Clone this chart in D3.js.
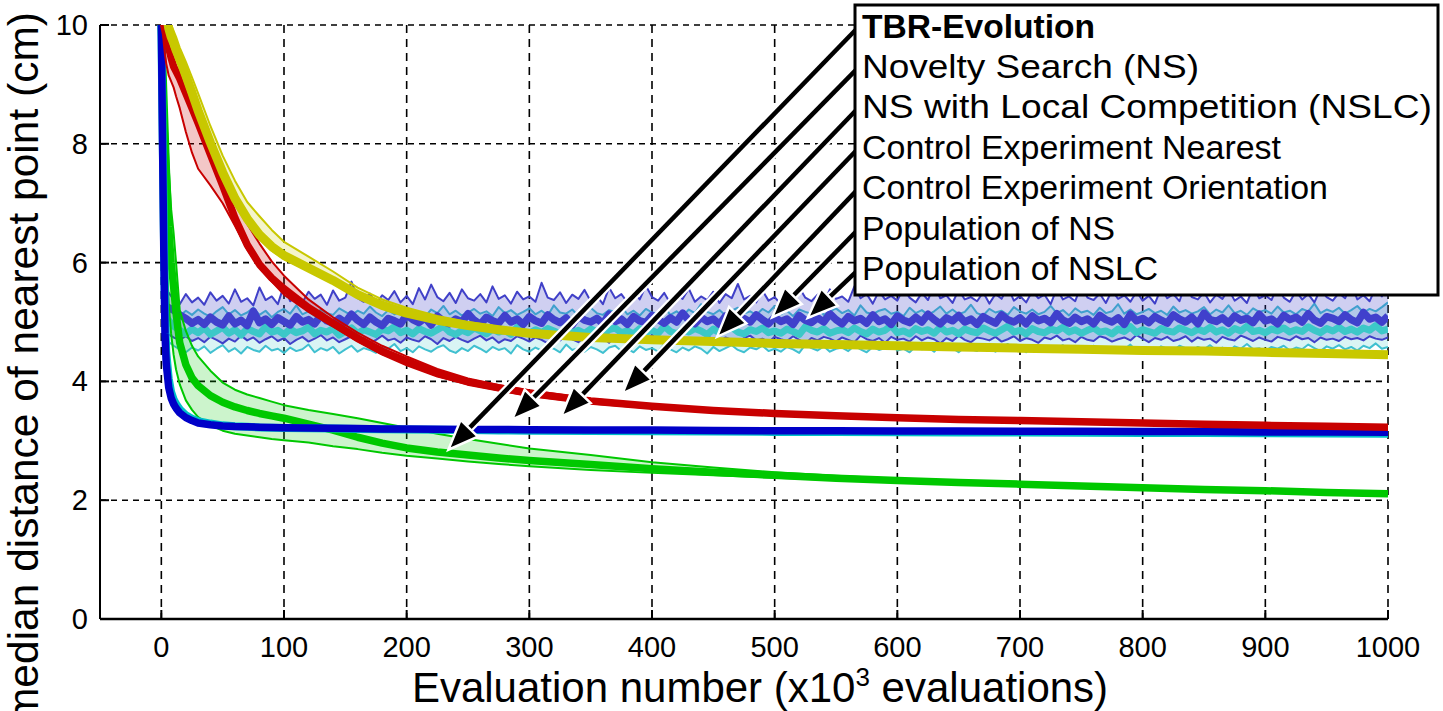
<!DOCTYPE html>
<html>
<head>
<meta charset="utf-8">
<script src="https://cdn.jsdelivr.net/npm/d3@7"></script>
<style>
  body { margin: 0; background: #fff; }
  text { font-family: "Liberation Sans", Arial, sans-serif; fill: #000; }
</style>
</head>
<body>
<svg id="chart" width="1443" height="711"></svg>
<script>
// evaluation sample points (x10^3) for the smooth curves
const evals = [0,1,2,3,4,6,8,10,12,15,20,25,30,40,50,60,70,80,90,100,120,140,160,180,200,225,250,275,300,350,400,450,500,550,600,650,700,750,800,850,900,950,1000];

// TBR-Evolution (median + quartiles)
const tbrMed = [10,9.4,8.8,8.2,7.6,6.6,6.0,5.6,5.15,4.65,4.28,4.06,3.93,3.76,3.65,3.57,3.51,3.46,3.42,3.38,3.28,3.18,3.06,2.96,2.88,2.81,2.76,2.71,2.67,2.6,2.53,2.47,2.42,2.37,2.33,2.3,2.27,2.24,2.21,2.18,2.16,2.13,2.11];
const tbrHi = [10,9.8,9.5,9.0,8.5,7.6,6.9,6.5,6.0,5.2,4.85,4.6,4.42,4.18,3.98,3.86,3.78,3.72,3.66,3.6,3.52,3.45,3.38,3.3,3.22,3.12,3.03,2.95,2.87,2.76,2.64,2.55,2.47,2.41,2.36,2.32,2.29,2.26,2.23,2.2,2.18,2.15,2.13];
const tbrLo = [10,8.8,7.8,6.9,6.2,5.3,4.8,4.45,4.2,3.95,3.68,3.52,3.4,3.26,3.17,3.12,3.09,3.06,3.03,3.01,2.97,2.91,2.86,2.8,2.75,2.7,2.65,2.61,2.57,2.51,2.46,2.42,2.38,2.34,2.3,2.27,2.24,2.21,2.18,2.16,2.14,2.11,2.09];

// Novelty Search / NSLC (best individual)
const nsMed = [10,8.0,6.2,4.8,4.3,3.9,3.72,3.62,3.55,3.47,3.39,3.34,3.3,3.27,3.25,3.24,3.235,3.23,3.225,3.22,3.215,3.21,3.205,3.2,3.2,3.195,3.19,3.19,3.185,3.18,3.18,3.175,3.17,3.17,3.165,3.165,3.16,3.16,3.155,3.155,3.15,3.15,3.145];
const nslcMed = [10,8.3,6.6,5.2,4.5,4.05,3.82,3.7,3.62,3.53,3.43,3.37,3.33,3.29,3.26,3.245,3.235,3.225,3.22,3.215,3.21,3.205,3.2,3.195,3.19,3.185,3.18,3.175,3.17,3.165,3.16,3.155,3.15,3.15,3.145,3.14,3.14,3.135,3.13,3.13,3.125,3.125,3.12];

// Control experiment nearest
const nearMed = [10.6,10.3,10.0,9.9,9.8,9.62,9.45,9.3,9.22,9.1,8.85,8.6,8.35,7.82,7.3,6.75,6.3,5.97,5.74,5.56,5.24,4.98,4.73,4.51,4.34,4.14,3.99,3.89,3.8,3.67,3.58,3.51,3.46,3.42,3.39,3.36,3.34,3.32,3.3,3.28,3.26,3.245,3.23];
const nearHi = [10.7,10.5,10.3,10.15,10.05,9.85,9.7,9.55,9.45,9.3,9.08,8.82,8.56,8.05,7.55,7.08,6.65,6.32,6.02,5.78,5.38,5.08,4.82,4.6,4.42,4.21,4.05,3.94,3.85,3.71,3.61,3.54,3.49,3.45,3.41,3.38,3.36,3.34,3.32,3.3,3.28,3.265,3.25];
const nearLo = [10.4,10.0,9.7,9.5,9.35,9.15,9.05,8.95,8.8,8.6,8.2,7.85,7.58,7.3,7.0,6.62,6.22,5.92,5.68,5.46,5.17,4.92,4.67,4.45,4.27,4.08,3.95,3.85,3.76,3.63,3.55,3.48,3.44,3.4,3.37,3.34,3.32,3.3,3.28,3.26,3.245,3.23,3.215];

// Control experiment orientation
const orientMed = [11.2,10.9,10.6,10.4,10.2,9.95,9.8,9.7,9.58,9.43,9.15,8.86,8.56,8.02,7.52,7.08,6.74,6.47,6.27,6.12,5.91,5.7,5.46,5.28,5.15,5.03,4.94,4.87,4.81,4.74,4.7,4.67,4.64,4.62,4.6,4.58,4.56,4.54,4.52,4.51,4.49,4.47,4.45];
const orientHi = [11.4,11.1,10.8,10.6,10.4,10.15,10.0,9.9,9.8,9.62,9.38,9.12,8.85,8.3,7.8,7.38,7.02,6.78,6.55,6.35,6.1,5.85,5.58,5.38,5.24,5.1,5.0,4.92,4.85,4.77,4.72,4.69,4.66,4.64,4.62,4.6,4.58,4.56,4.54,4.53,4.51,4.49,4.47];
const orientLo = [11.0,10.7,10.4,10.2,10.0,9.8,9.65,9.55,9.42,9.28,9.0,8.72,8.43,7.9,7.4,6.98,6.65,6.4,6.2,6.06,5.86,5.65,5.42,5.25,5.12,5.0,4.92,4.85,4.79,4.72,4.68,4.65,4.62,4.6,4.58,4.56,4.54,4.52,4.5,4.49,4.47,4.45,4.43];

// population curves, sampled every 5 x10^3 evaluations
const popEvals = d3.range(5, 1001, 5);
const popNsHi = [5.52,5.38,5.30,5.47,5.33,5.41,5.29,5.50,5.36,5.44,5.31,5.55,5.34,5.40,5.28,5.58,5.37,5.43,5.30,5.62,5.35,5.42,5.33,5.51,5.39,5.46,5.29,5.53,5.36,5.41,5.68,5.40,5.34,5.48,5.31,5.45,5.37,5.52,5.33,5.44,5.30,5.57,5.38,5.63,5.42,5.35,5.49,5.32,5.55,5.40,5.36,5.47,5.33,5.60,5.39,5.45,5.31,5.51,5.38,5.43,5.34,5.66,5.41,5.37,5.50,5.32,5.46,5.39,5.54,5.35,5.44,5.30,5.58,5.40,5.47,5.33,5.52,5.38,5.61,5.42,5.36,5.49,5.31,5.45,5.39,5.56,5.34,5.43,5.37,5.51,5.32,5.47,5.40,5.64,5.38,5.44,5.33,5.53,5.36,5.42,5.30,5.49,5.37,5.58,5.41,5.35,5.46,5.32,5.55,5.39,5.43,5.34,5.60,5.40,5.47,5.31,5.52,5.38,5.44,5.36,5.57,5.41,5.33,5.49,5.37,5.63,5.40,5.45,5.32,5.54,5.38,5.42,5.35,5.50,5.31,5.47,5.39,5.59,5.36,5.44,5.33,5.52,5.40,5.46,5.30,5.56,5.38,5.43,5.35,5.62,5.41,5.37,5.48,5.32,5.53,5.39,5.45,5.34,5.51,5.36,5.44,5.31,5.57,5.40,5.47,5.35,5.65,5.42,5.38,5.50,5.33,5.46,5.39,5.55,5.36,5.43,5.32,5.58,5.40,5.45,5.37,5.61,5.41,5.34,5.52,5.38,5.47,5.33,5.56,5.42,5.36,5.49,5.40,5.63,5.38,5.45,5.35,5.58,5.43,5.70];
const popNsMed = [5.25,5.20,5.12,5.06,4.98,5.04,4.96,5.08,5.00,4.95,5.10,4.97,5.03,4.94,5.18,4.99,5.05,4.96,5.07,5.01,4.95,5.09,5.00,5.04,4.97,5.11,5.02,4.98,5.06,4.99,5.13,5.03,4.96,5.08,5.00,4.94,5.06,5.02,4.97,5.12,5.04,4.99,5.07,4.95,5.10,5.01,4.97,5.05,5.00,5.14,5.03,4.96,5.08,5.02,4.98,5.11,5.00,5.05,4.96,5.09,5.02,4.98,5.12,5.04,4.99,5.07,4.95,5.10,5.03,5.00,5.06,4.97,5.13,5.01,5.05,4.96,5.09,5.02,4.99,5.11,5.04,4.98,5.07,5.00,5.15,5.03,4.97,5.08,5.01,5.05,4.96,5.10,5.02,4.99,5.06,5.00,5.12,5.04,4.97,5.08,5.01,5.05,4.96,5.11,5.03,4.99,5.07,5.00,5.14,5.04,4.97,5.09,5.02,5.06,4.98,5.12,5.01,5.05,4.96,5.10,5.03,4.99,5.08,5.00,5.13,5.04,4.97,5.07,5.02,5.11,5.00,5.05,4.96,5.09,5.03,4.98,5.12,5.04,5.00,5.07,4.97,5.10,5.02,5.06,4.99,5.14,5.03,4.98,5.08,5.01,5.05,4.97,5.11,5.04,5.00,5.07,4.96,5.13,5.02,5.06,4.99,5.09,5.03,4.98,5.12,5.05,5.00,5.08,4.97,5.15,5.04,5.01,5.07,4.98,5.10,5.03,5.06,4.99,5.13,5.02,5.05,4.97,5.11,5.04,5.08,5.00,5.14,5.03,4.98,5.09,5.06,5.01,5.12,5.04,4.99,5.16,5.05,5.08,5.00,5.10];
const popNsLo = [4.80,4.74,4.70,4.76,4.68,4.73,4.66,4.75,4.70,4.64,4.72,4.67,4.77,4.69,4.74,4.65,4.71,4.76,4.68,4.73,4.63,4.70,4.75,4.67,4.72,4.78,4.69,4.74,4.66,4.71,4.76,4.68,4.73,4.64,4.70,4.77,4.69,4.72,4.65,4.74,4.70,4.67,4.76,4.71,4.63,4.73,4.68,4.75,4.70,4.66,4.72,4.77,4.69,4.74,4.65,4.71,4.68,4.76,4.72,4.67,4.74,4.70,4.64,4.73,4.69,4.77,4.71,4.66,4.75,4.70,4.68,4.73,4.65,4.76,4.72,4.69,4.74,4.67,4.71,4.78,4.70,4.66,4.73,4.69,4.75,4.64,4.72,4.68,4.76,4.71,4.67,4.74,4.70,4.65,4.73,4.77,4.69,4.72,4.66,4.75,4.71,4.68,4.76,4.70,4.64,4.73,4.69,4.75,4.72,4.67,4.74,4.70,4.66,4.77,4.71,4.68,4.73,4.65,4.75,4.70,4.72,4.67,4.76,4.69,4.74,4.71,4.64,4.73,4.68,4.77,4.70,4.66,4.74,4.72,4.69,4.75,4.67,4.71,4.76,4.68,4.73,4.70,4.65,4.74,4.71,4.77,4.69,4.72,4.66,4.75,4.70,4.68,4.76,4.73,4.67,4.71,4.74,4.69,4.78,4.72,4.66,4.73,4.70,4.75,4.68,4.71,4.76,4.67,4.74,4.70,4.72,4.65,4.75,4.71,4.69,4.77,4.73,4.68,4.74,4.70,4.67,4.75,4.72,4.69,4.76,4.71,4.73,4.66,4.74,4.70,4.72,4.68,4.75,4.71,4.73,4.69,4.76,4.72,4.70,4.74];
const popNslcHi = [5.22,5.15,5.10,5.19,5.12,5.21,5.14,5.09,5.18,5.25,5.13,5.20,5.11,5.16,5.24,5.12,5.19,5.08,5.17,5.22,5.14,5.28,5.13,5.18,5.10,5.21,5.15,5.12,5.23,5.17,5.11,5.19,5.14,5.26,5.16,5.10,5.20,5.13,5.18,5.24,5.12,5.17,5.09,5.21,5.15,5.27,5.13,5.19,5.11,5.16,5.22,5.14,5.18,5.10,5.25,5.15,5.20,5.12,5.17,5.23,5.13,5.19,5.11,5.28,5.16,5.14,5.21,5.10,5.18,5.24,5.15,5.12,5.20,5.17,5.26,5.13,5.19,5.11,5.22,5.16,5.14,5.25,5.12,5.18,5.10,5.21,5.15,5.30,5.17,5.13,5.20,5.11,5.19,5.24,5.14,5.18,5.12,5.22,5.16,5.27,5.13,5.19,5.10,5.21,5.17,5.14,5.25,5.12,5.18,5.23,5.15,5.20,5.11,5.28,5.16,5.13,5.19,5.22,5.14,5.17,5.10,5.24,5.15,5.20,5.12,5.18,5.26,5.14,5.21,5.13,5.17,5.29,5.15,5.11,5.22,5.16,5.19,5.12,5.25,5.18,5.14,5.21,5.13,5.17,5.27,5.15,5.20,5.11,5.23,5.16,5.19,5.12,5.24,5.15,5.18,5.30,5.14,5.21,5.13,5.17,5.22,5.15,5.19,5.12,5.26,5.16,5.20,5.14,5.18,5.25,5.13,5.21,5.16,5.28,5.15,5.19,5.12,5.23,5.17,5.20,5.14,5.26,5.16,5.19,5.13,5.22,5.18,5.31,5.15,5.21,5.17,5.24,5.14,5.20,5.27,5.16,5.22,5.18,5.25,5.33];
const popNslcMed = [5.05,4.93,4.86,4.80,4.88,4.82,4.90,4.79,4.85,4.91,4.81,4.87,4.78,4.89,4.84,4.80,4.92,4.83,4.86,4.79,4.88,4.82,4.85,4.91,4.80,4.86,4.83,4.89,4.78,4.84,4.90,4.81,4.87,4.83,4.79,4.88,4.85,4.92,4.82,4.86,4.80,4.89,4.84,4.81,4.87,4.93,4.83,4.79,4.86,4.82,4.90,4.85,4.80,4.88,4.83,4.86,4.79,4.91,4.84,4.81,4.87,4.82,4.89,4.85,4.80,4.92,4.83,4.86,4.81,4.88,4.84,4.79,4.87,4.90,4.82,4.85,4.80,4.89,4.83,4.86,4.81,4.93,4.84,4.80,4.87,4.83,4.89,4.85,4.79,4.88,4.82,4.86,4.91,4.83,4.80,4.87,4.84,4.90,4.82,4.85,4.81,4.88,4.84,4.79,4.92,4.86,4.83,4.89,4.81,4.85,4.87,4.82,4.90,4.84,4.80,4.88,4.83,4.86,4.94,4.82,4.85,4.80,4.89,4.84,4.87,4.81,4.91,4.83,4.86,4.80,4.88,4.84,4.82,4.90,4.85,4.81,4.87,4.93,4.83,4.86,4.80,4.89,4.84,4.82,4.88,4.85,4.91,4.83,4.87,4.81,4.86,4.90,4.83,4.85,4.80,4.88,4.84,4.92,4.82,4.87,4.84,4.81,4.89,4.85,4.83,4.90,4.86,4.82,4.88,4.84,4.91,4.83,4.87,4.81,4.89,4.85,4.93,4.84,4.86,4.82,4.88,4.85,4.90,4.83,4.87,4.84,4.92,4.86,4.82,4.89,4.85,4.91,4.84,4.88,4.83,4.90,4.86,4.94,4.85,4.88];
const popNslcLo = [4.68,4.60,4.54,4.49,4.57,4.52,4.59,4.48,4.55,4.61,4.50,4.56,4.47,4.58,4.53,4.50,4.60,4.52,4.55,4.48,4.57,4.51,4.54,4.62,4.49,4.56,4.52,4.58,4.47,4.54,4.60,4.50,4.56,4.53,4.48,4.58,4.55,4.63,4.51,4.56,4.49,4.59,4.54,4.50,4.57,4.61,4.52,4.48,4.56,4.51,4.60,4.55,4.49,4.58,4.53,4.56,4.47,4.61,4.54,4.50,4.57,4.52,4.59,4.55,4.49,4.62,4.53,4.56,4.50,4.58,4.54,4.48,4.57,4.60,4.51,4.55,4.49,4.59,4.53,4.56,4.50,4.63,4.54,4.49,4.57,4.52,4.59,4.55,4.47,4.58,4.51,4.56,4.61,4.53,4.49,4.57,4.54,4.60,4.51,4.55,4.50,4.58,4.54,4.48,4.62,4.56,4.52,4.59,4.50,4.55,4.57,4.51,4.60,4.54,4.49,4.58,4.53,4.56,4.64,4.52,4.55,4.49,4.59,4.54,4.57,4.50,4.61,4.53,4.56,4.49,4.58,4.54,4.51,4.60,4.55,4.50,4.57,4.63,4.53,4.56,4.49,4.59,4.54,4.51,4.58,4.55,4.61,4.52,4.57,4.50,4.56,4.60,4.53,4.55,4.49,4.58,4.54,4.62,4.51,4.57,4.54,4.50,4.59,4.55,4.52,4.60,4.56,4.51,4.58,4.54,4.61,4.52,4.57,4.50,4.59,4.55,4.63,4.54,4.56,4.51,4.58,4.55,4.60,4.52,4.57,4.54,4.62,4.56,4.51,4.59,4.55,4.61,4.54,4.58,4.52,4.60,4.56,4.64,4.55,4.58];

// legend labels and where their arrows point (x10^3 evals, cm)
const legendLabels = ["TBR-Evolution", "Novelty Search (NS)", "NS with Local Competition (NSLC)", "Control Experiment Nearest", "Control Experiment Orientation", "Population of NS", "Population of NSLC"];
const arrowTargets = [[234, 2.85], [286, 3.36], [326, 3.41], [376, 3.8], [453, 4.75], [498, 5.08], [527, 5.07]];

const xTicks = [0,100,200,300,400,500,600,700,800,900,1000];
const yTicks = [0,2,4,6,8,10];

// layout
const svg = d3.select("#chart");
const pL = 100, pR = 1388, pT = 25, pB = 619;
const legX = 855, legY = 5, legW = 583, legH = 290;
const legTextW = [233, 337, 570, 419, 466, 253, 296]; // rendered widths of the legend lines

const x = d3.scaleLinear().domain([-50, 1000]).range([pL, pR]);
const y = d3.scaleLinear().domain([0, 10]).range([pB, pT]);

svg.append("defs").append("clipPath").attr("id", "plotClip")
  .append("rect").attr("x", pL).attr("y", pT)
  .attr("width", pR - pL).attr("height", pB - pT);

// grid
const grid = svg.append("g");
grid.selectAll(".vg").data(xTicks).enter().append("line")
  .attr("x1", d => x(d)).attr("x2", d => x(d))
  .attr("y1", pT).attr("y2", pB)
  .attr("stroke", "#000").attr("stroke-width", 1.6).attr("stroke-dasharray", "8,6");
grid.selectAll(".hg").data(yTicks.filter(d => d > 0)).enter().append("line")
  .attr("x1", pL).attr("x2", pR)
  .attr("y1", d => y(d)).attr("y2", d => y(d))
  .attr("stroke", "#000").attr("stroke-width", 1.6).attr("stroke-dasharray", "6,5");

const plot = svg.append("g").attr("clip-path", "url(#plotClip)");

function zip(xs, ys) { return xs.map((v, i) => [v, ys[i]]); }
const line = d3.line().x(d => x(d[0])).y(d => y(d[1]));
const area = d3.area().x(d => x(d.x)).y0(d => y(d.lo)).y1(d => y(d.hi));

function band(xs, lo, hi, fill, opacity, edge) {
  const rows = xs.map((v, i) => ({ x: v, lo: lo[i], hi: hi[i] }));
  plot.append("path").attr("d", area(rows))
    .attr("fill", fill).attr("fill-opacity", opacity).attr("stroke", "none");
  [lo, hi].forEach(s => {
    plot.append("path").attr("d", line(zip(xs, s)))
      .attr("fill", "none").attr("stroke", edge).attr("stroke-width", 2)
      .attr("stroke-linejoin", "round");
  });
}
function median(xs, ys, color, w) {
  plot.append("path").attr("d", line(zip(xs, ys)))
    .attr("fill", "none").attr("stroke", color).attr("stroke-width", w)
    .attr("stroke-linejoin", "round");
}

// populations
band(popEvals, popNslcLo, popNslcHi, "#40c8c8", 0.2, "#40c0d0");
band(popEvals, popNsLo, popNsHi, "#4040c8", 0.25, "#4040c8");
median(popEvals, popNslcMed, "#3cc8c8", 7);
median(popEvals, popNsMed, "#4040cc", 7.5);

// TBR-Evolution
band(evals, tbrLo, tbrHi, "#00c800", 0.2, "#00c800");
median(evals, tbrMed, "#00c800", 7.5);

// NS / NSLC
median(evals, nslcMed, "#00c0c8", 8);
median(evals, nsMed, "#0000c8", 7.5);

// control experiments
band(evals, nearLo, nearHi, "#c80000", 0.22, "#c80000");
median(evals, nearMed, "#c80000", 7.5);
band(evals, orientLo, orientHi, "#c8c800", 0.2, "#c8c800");
median(evals, orientMed, "#c8c800", 9);

// axes
svg.append("line").attr("x1", pL).attr("x2", pL).attr("y1", pT).attr("y2", pB)
  .attr("stroke", "#000").attr("stroke-width", 2);
svg.append("line").attr("x1", pL).attr("x2", pR).attr("y1", pB).attr("y2", pB)
  .attr("stroke", "#000").attr("stroke-width", 2.5);
svg.selectAll(".yt").data(yTicks).enter().append("line")
  .attr("x1", pL).attr("x2", pL + 9).attr("y1", d => y(d)).attr("y2", d => y(d))
  .attr("stroke", "#000").attr("stroke-width", 2);
svg.selectAll(".xt").data(xTicks).enter().append("line")
  .attr("x1", d => x(d)).attr("x2", d => x(d)).attr("y1", pB).attr("y2", pB - 9)
  .attr("stroke", "#000").attr("stroke-width", 2);

svg.selectAll(".ytl").data(yTicks).enter().append("text")
  .attr("x", 88).attr("y", d => y(d) + 10).attr("text-anchor", "end")
  .attr("font-size", 29).text(d => d);
svg.selectAll(".xtl").data(xTicks).enter().append("text")
  .attr("x", d => x(d)).attr("y", 657).attr("text-anchor", "middle")
  .attr("font-size", 29).text(d => d);

const xl = svg.append("text").attr("x", 760).attr("y", 702)
  .attr("text-anchor", "middle").attr("font-size", 42);
xl.append("tspan").text("Evaluation number (x10");
xl.append("tspan").attr("font-size", 26).attr("dy", -16).text("3");
xl.append("tspan").attr("dy", 16).text(" evaluations)");

svg.append("text").attr("transform", "translate(38,12) rotate(-90)")
  .attr("text-anchor", "end").attr("font-size", 42.5)
  .text("median distance of nearest point (cm)");

// legend arrows
const rowBase = i => 37.5 + i * 40.4;
const arrows = svg.append("g");
arrowTargets.forEach((t, i) => {
  const x0 = legX + 1, y0 = rowBase(i) - 8;
  const x1 = x(t[0]), y1 = y(t[1]);
  const ang = Math.atan2(y1 - y0, x1 - x0);
  const L = 30, W = 12;
  const bx = x1 - L * Math.cos(ang), by = y1 - L * Math.sin(ang);
  const px = -Math.sin(ang) * W, py = Math.cos(ang) * W;
  arrows.append("line").attr("x1", x0).attr("y1", y0).attr("x2", bx).attr("y2", by)
    .attr("stroke", "#fff").attr("stroke-width", 9);
  arrows.append("line").attr("x1", x0).attr("y1", y0).attr("x2", bx).attr("y2", by)
    .attr("stroke", "#000").attr("stroke-width", 4.5);
  arrows.append("polygon")
    .attr("points", [[x1, y1], [bx + px, by + py], [bx - px, by - py]].map(p => p.join(",")).join(" "))
    .attr("fill", "#000").attr("stroke", "#fff").attr("stroke-width", 2.5).attr("stroke-linejoin", "miter");
});

// legend box
svg.append("rect").attr("x", legX).attr("y", legY).attr("width", legW).attr("height", legH)
  .attr("fill", "#fff").attr("stroke", "#000").attr("stroke-width", 3);
svg.selectAll(".leg").data(legendLabels).enter().append("text")
  .attr("x", 862).attr("y", (d, i) => rowBase(i))
  .attr("font-size", (d, i) => i === 0 ? 33.5 : 34)
  .attr("font-weight", (d, i) => i === 0 ? "bold" : "normal")
  .attr("textLength", (d, i) => legTextW[i])
  .attr("lengthAdjust", "spacingAndGlyphs")
  .text(d => d);
</script>
</body>
</html>
